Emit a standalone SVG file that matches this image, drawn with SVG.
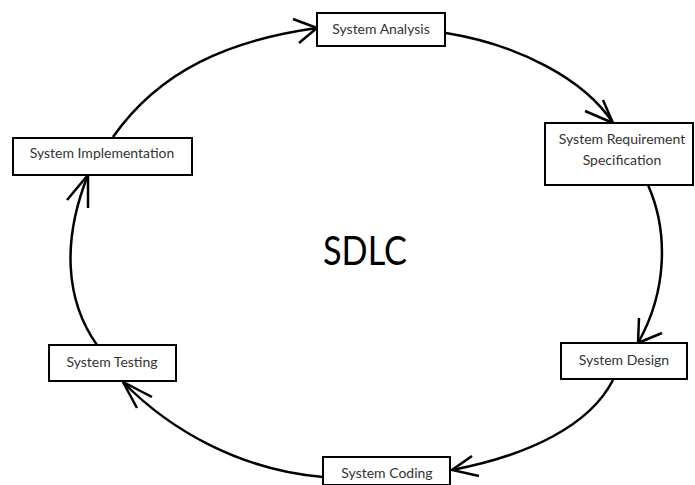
<svg xmlns="http://www.w3.org/2000/svg" width="695" height="485" viewBox="0 0 695 485">
<style>
.box{fill:#fff;stroke:#000;stroke-width:2}
.lbl{font-family:Lato,"Open Sans","Liberation Sans",sans-serif;font-size:14px;fill:#333;text-anchor:middle}
.arc{fill:none;stroke:#000;stroke-width:2.5}
.head{fill:none;stroke:#000;stroke-width:2.5;stroke-linecap:butt}
.title{font-family:Lato,"Open Sans","Liberation Sans",sans-serif;font-size:40px;fill:#000}
</style>
<rect width="695" height="485" fill="#fff"/>
<g id="connectors">
<path class="arc" d="M113,137 C160,70 230,40 317,28"/>
<path class="head" d="M293,19 L317,28 L299,43"/>
<path class="arc" d="M446,33 C520,45 585,80 613,123"/>
<path class="head" d="M585,111 L613,123 L603,100"/>
<path class="arc" d="M648,185 C668,230 668,290 638,343"/>
<path class="head" d="M639,318 L638,343 L662,333"/>
<path class="arc" d="M613,380 C590,425 530,455 452,470"/>
<path class="head" d="M472,456 L452,470 L479,476"/>
<path class="arc" d="M323,477 C240,470 170,430 123,382"/>
<path class="head" d="M152,397 L123,382 L137,408"/>
<path class="arc" d="M97,345 C65,300 62,240 88,175"/>
<path class="head" d="M67,200 L88,175 L88,208"/>
</g>
<g id="analysis">
<rect class="box" x="317" y="13" width="128" height="33"/>
<text class="lbl" x="381" y="34">System Analysis</text>
</g>
<g id="srs">
<rect class="box" x="545" y="123" width="148" height="62"/>
<text class="lbl" x="622" y="144">System Requirement</text>
<text class="lbl" x="622" y="165">Specification</text>
</g>
<g id="design">
<rect class="box" x="561" y="343" width="126" height="36"/>
<text class="lbl" x="624" y="365">System Design</text>
</g>
<g id="coding">
<rect class="box" x="323" y="457" width="127" height="28"/>
<text class="lbl" x="387" y="478">System Coding</text>
</g>
<g id="testing">
<rect class="box" x="49" y="345" width="127" height="36"/>
<text class="lbl" x="112" y="367">System Testing</text>
</g>
<g id="implementation">
<rect class="box" x="13" y="138" width="179" height="37"/>
<text class="lbl" x="102" y="158">System Implementation</text>
</g>
<text class="title" x="323" y="265" textLength="84" lengthAdjust="spacingAndGlyphs">SDLC</text>
</svg>
